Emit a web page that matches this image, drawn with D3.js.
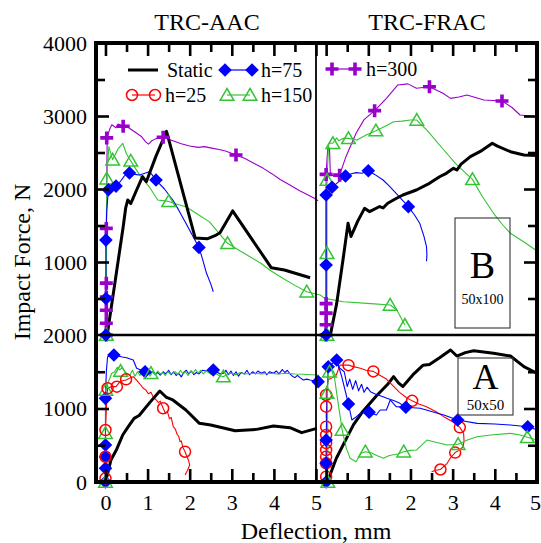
<!DOCTYPE html>
<html>
<head>
<meta charset="utf-8">
<script src="https://cdn.jsdelivr.net/npm/d3@7"></script>
<style>
  body { margin: 0; background: #fff; }
  svg { display: block; }
  text { font-family: "Liberation Serif", "Times New Roman", serif; fill: #000; }
</style>
</head>
<body>
<svg id="chart" width="541" height="543"></svg>
<script>
// ---- Column / row labels and ticks ----
const columnTitles = ["TRC-AAC", "TRC-FRAC"];
const specimenLabels = [["B", "50x100"], ["A", "50x50"]];
const xMajorTicks = [0, 1, 2, 3, 4, 5];
const xMinorTicks = [0.5, 1.5, 2.5, 3.5, 4.5];
const xLabelsLeft = [0, 1, 2, 3, 4, 5];
const xLabelsRight = [1, 2, 3, 4, 5];
const yTopMajor = [1000, 2000, 3000];
const yTopMinor = [500, 1500, 2500, 3500];
const yTopLabels = [1000, 2000, 3000, 4000];
const yBotMajor = [1000];
const yBotMinor = [500, 1500];
const yBotLabels = [0, 1000, 2000];
const legendNames = ["Static", "h=75", "h=25", "h=150", "h=300"];

// ---- TRC-AAC, specimen B (50x100) ----
const staticAacB = [[0.04,0],[0.2,620],[0.42,1480],[0.48,1740],[0.53,1850],[0.6,1800],[0.75,2000],[0.88,2170],[0.97,2100],[1.2,2450],[1.45,2790],[2.13,1330],[2.43,1320],[2.6,1360],[2.72,1400],[3.02,1700],[3.94,920],[4.25,890],[4.86,785]];
const h300AacB = [[0.02,0],[0.02,700],[0.02,1460],[0.03,2000],[0.04,2700],[0.1,2820],[0.15,2880],[0.25,2840],[0.3,2890],[0.42,2860],[0.55,2840],[0.7,2780],[0.86,2715],[0.95,2650],[1.02,2615],[1.1,2660],[1.2,2690],[1.37,2708],[1.6,2660],[1.8,2620],[2.0,2590],[2.2,2570],[2.35,2580],[2.55,2557],[2.7,2540],[2.85,2520],[3.1,2466],[3.3,2420],[3.5,2360],[3.75,2283],[3.95,2210],[4.15,2130],[4.38,2055],[4.6,1980],[4.8,1920],[4.95,1877],[5.05,1840]];
const h300AacBMarks = [[0.02,0],[0.02,160],[0.02,340],[0.02,520],[0.02,710],[0.02,1460],[0.03,2700],[0.42,2860],[1.37,2708],[3.1,2466]];
const h150AacB = [[0.02,0],[0.03,2140],[0.08,2580],[0.17,2400],[0.3,2550],[0.41,2626],[0.5,2480],[0.6,2385],[0.8,2200],[1.04,2030],[1.24,1850],[1.5,1830],[1.7,1790],[1.91,1758],[2.2,1650],[2.47,1550],[2.9,1256],[3.2,1150],[3.43,1073],[3.7,980],[3.9,890],[4.2,780],[4.5,680],[4.78,593],[5.1,548],[5.21,502],[5.65,456],[6.3,430],[6.76,411],[6.92,342],[7.11,137]];
const h150AacBMarks = [[0.02,0],[0.03,2140],[0.17,2400],[0.6,2385],[1.5,1830],[2.9,1256],[4.78,593],[6.76,411],[7.11,137]];
const h75AacB = [[0.01,0],[0.01,500],[0.01,1300],[0.03,1700],[0.07,1990],[0.15,2010],[0.25,2040],[0.35,2100],[0.45,2180],[0.57,2220],[0.7,2200],[0.8,2192],[0.9,2210],[1.04,2237],[1.1,2200],[1.2,2123],[1.4,2000],[1.6,1849],[1.75,1700],[1.91,1530],[2.05,1380],[2.22,1200],[2.3,1050],[2.4,845],[2.5,700],[2.56,593]];
const h75AacBMarks = [[0.01,0],[0.01,500],[0.01,1300],[0.07,1990],[0.25,2040],[0.57,2220],[1.2,2123],[2.22,1200]];

// ---- TRC-FRAC, specimen B (50x100) ----
const staticFracB = [[0.1,0],[0.25,430],[0.4,1030],[0.52,1530],[0.59,1350],[0.75,1560],[0.91,1735],[1.03,1690],[1.27,1760],[1.35,1740],[1.46,1805],[1.66,1870],[1.82,1918],[2.14,1986],[2.45,2078],[2.69,2168],[2.85,2215],[3.02,2283],[3.1,2260],[3.2,2340],[3.42,2443],[3.7,2530],[3.94,2626],[4.05,2590],[4.37,2511],[4.69,2466],[5.0,2460]];
const h300FracB = [[0.0,0],[0.0,2200],[0.02,2400],[0.04,2560],[0.08,2560],[0.1,2200],[0.2,2180],[0.32,2190],[0.47,2443],[0.71,2763],[0.9,2950],[1.15,3073],[1.43,3242],[1.7,3425],[1.94,3440],[2.14,3380],[2.45,3400],[2.77,3311],[2.95,3242],[3.15,3260],[3.34,3288],[3.74,3219],[4.17,3205],[4.4,3120],[4.6,3014],[5.0,2990]];
const h300FracBMarks = [[0,0],[0,140],[0,300],[0,430],[0,2200],[0.32,2190],[1.15,3073],[2.45,3400],[4.17,3205]];
const h150FracB = [[0.02,0],[0.02,1120],[0.02,2123],[0.06,2626],[0.16,2626],[0.25,2700],[0.3,2660],[0.41,2694],[0.53,2694],[0.73,2671],[0.95,2740],[1.18,2799],[1.4,2860],[1.6,2922],[1.8,2930],[2.0,2945],[2.15,2945],[2.4,2800],[2.79,2534],[3.1,2330],[3.47,2132],[3.7,1900],[3.97,1667],[4.2,1500],[4.37,1393],[4.7,1270],[5.0,1150]];
const h150FracBMarks = [[0.02,0],[0.02,1120],[0.02,2123],[0.16,2626],[0.53,2694],[1.18,2799],[2.15,2945],[3.47,2132]];
const h75FracB = [[0,0],[0,959],[0,1918],[0.14,2023],[0.3,2100],[0.46,2178],[0.6,2210],[0.71,2224],[0.85,2215],[1.0,2250],[1.15,2200],[1.35,2123],[1.5,2040],[1.66,1941],[1.95,1758],[2.1,1640],[2.22,1530],[2.32,1350],[2.38,1210],[2.39,1100],[2.38,1010]];
const h75FracBMarks = [[0,0],[0,959],[0,1918],[0.14,2023],[0.46,2178],[1.0,2250],[1.95,1758]];

// ---- TRC-AAC, specimen A (50x50) ----
const staticAacA = [[0.01,20],[0.13,300],[0.27,450],[0.41,640],[0.55,760],[0.68,866],[0.8,905],[1.05,1080],[1.29,1238],[1.45,1150],[1.6,1116],[1.91,980],[2.23,798],[2.5,776],[3.08,698],[3.59,716],[3.99,762],[4.38,739],[4.66,671],[5.02,730]];
const h75AacA = [[0,0],[0,1138],[0.02,1500],[0.05,1705],[0.2,1728],[0.4,1700],[0.5,1690],[0.66,1660],[0.74,1547],[0.94,1500],[1.0,1490],[1.06,1470],[1.12,1500],[1.18,1460],[1.24,1490],[1.3,1455],[1.37,1500],[1.43,1470],[1.5,1520],[1.56,1460],[1.62,1500],[1.68,1450],[1.74,1480],[1.8,1430],[1.86,1490],[1.92,1520],[1.98,1470],[2.04,1510],[2.1,1460],[2.16,1490],[2.22,1470],[2.3,1520],[2.4,1510],[2.48,1530],[2.56,1524],[2.64,1500],[2.72,1470],[2.8,1479],[2.86,1520],[2.92,1460],[2.98,1510],[3.04,1450],[3.1,1500],[3.16,1440],[3.22,1490],[3.3,1470],[3.36,1520],[3.42,1460],[3.5,1500],[3.56,1470],[3.62,1510],[3.7,1480],[3.78,1500],[3.83,1460],[3.9,1500],[3.99,1479],[4.06,1510],[4.12,1470],[4.2,1530],[4.26,1490],[4.32,1520],[4.38,1470],[4.44,1440],[4.5,1420],[4.56,1450],[4.62,1420],[4.7,1388],[4.78,1400],[4.86,1388],[5.05,1365]];
const h75AacAMarks = [[0,0],[0,186],[0,344],[0,503],[0,1138],[0.2,1728],[0.94,1500],[2.56,1524],[5.05,1365]];
const h150AacA = [[0,0],[0,663],[0.01,1252],[0.08,1380],[0.15,1480],[0.22,1500],[0.28,1560],[0.34,1524],[0.4,1560],[0.46,1500],[0.52,1470],[0.58,1456],[0.64,1520],[0.7,1440],[0.76,1500],[0.82,1450],[0.88,1510],[0.94,1460],[1.0,1500],[1.06,1440],[1.12,1500],[1.18,1460],[1.24,1510],[1.3,1470],[1.36,1490],[1.42,1450],[1.48,1500],[1.54,1470],[1.6,1480],[1.66,1500],[1.72,1460],[1.78,1520],[1.84,1470],[1.9,1500],[1.96,1450],[2.02,1510],[2.08,1480],[2.14,1530],[2.2,1480],[2.26,1520],[2.32,1470],[2.4,1510],[2.5,1470],[2.6,1480],[2.7,1450],[2.8,1433],[2.9,1470],[3.0,1480],[3.1,1460],[3.2,1490],[3.3,1470],[3.5,1480],[3.7,1470],[3.9,1480],[4.1,1470],[4.3,1480],[4.5,1470],[4.7,1465],[4.9,1460],[5.05,1456]];
const h150AacAMarks = [[0,0],[0,663],[0.01,1252],[0.36,1510],[1.08,1480],[2.8,1433]];
const h25AacA = [[0,0],[0.01,350],[0,700],[0.02,1000],[0.05,1275],[0.15,1300],[0.25,1297],[0.35,1370],[0.49,1388],[0.6,1420],[0.66,1433],[0.75,1380],[0.82,1330],[0.9,1275],[0.96,1250],[1.02,1200],[1.08,1220],[1.14,1150],[1.2,1120],[1.26,1080],[1.3,1100],[1.37,1003],[1.42,940],[1.47,960],[1.52,860],[1.56,880],[1.61,752],[1.66,720],[1.7,650],[1.74,620],[1.77,548],[1.8,560],[1.84,470],[1.89,412],[1.93,350],[1.97,300],[2.0,231],[1.95,160],[1.89,95]];
const h25AacAMarks = [[0,50],[0,344],[0,707],[0.05,1275],[0.27,1297],[0.49,1397],[1.37,1003],[1.89,412]];

// ---- TRC-FRAC, specimen A (50x50) ----
const staticFracA = [[0.05,30],[0.24,320],[0.48,590],[0.65,780],[0.87,960],[1.19,1170],[1.46,1330],[1.6,1433],[1.72,1345],[1.82,1300],[2.06,1460],[2.3,1590],[2.45,1600],[2.69,1690],[2.95,1796],[3.1,1714],[3.3,1760],[3.5,1786],[3.97,1751],[4.37,1714],[4.69,1569],[5.0,1480]];
const h25FracA = [[0,0],[0.02,150],[0,300],[0.02,450],[0,600],[0.02,750],[0,900],[0.02,1050],[0,1200],[0.05,1390],[0.15,1420],[0.24,1456],[0.33,1590],[0.53,1590],[0.65,1570],[0.81,1547],[0.95,1520],[1.12,1505],[1.25,1460],[1.43,1400],[1.6,1300],[1.74,1220],[1.9,1150],[2.04,1104],[2.2,1060],[2.38,1025],[2.6,960],[2.79,889],[3.0,820],[3.17,744],[3.26,662],[3.27,560],[3.25,480],[3.15,430],[3.06,400],[2.95,330],[2.87,254],[2.71,170],[2.6,160],[2.5,140]];
const h25FracAMarks = [[0,72],[0,254],[0,344],[0,435],[0,530],[0,640],[0,752],[0,1025],[0,1184],[0.53,1590],[1.12,1505],[2.04,1104],[3.17,744],[3.06,400],[2.71,170]];
const h75FracA = [[0,0],[0,254],[0,571],[0.02,1100],[0.05,1569],[0.25,1660],[0.37,1433],[0.53,1061],[0.61,844],[0.7,880],[0.81,935],[1.02,948],[1.19,912],[1.28,980],[1.43,980],[1.52,1116],[1.66,1025],[1.89,1016],[2.23,1003],[2.5,960],[2.79,912],[3.12,844],[3.58,798],[4.0,790],[4.37,776],[4.78,752],[5.0,710]];
const h75FracABranch = [[0.25,1660],[0.3,1560],[0.43,1500],[0.5,1300],[0.56,1400],[0.63,1260],[0.7,1380],[0.77,1240],[0.84,1330],[0.9,1220],[0.97,1290],[1.05,1229],[1.15,1200],[1.25,1180],[1.35,1160],[1.44,1139],[1.6,1110],[1.75,1070],[1.89,1016]];
const h75FracAMarks = [[0,0],[0,254],[0,571],[0.05,1569],[0.25,1660],[0.53,1061],[1.02,948],[1.89,1016],[3.12,844],[4.78,752]];
const h150FracA = [[0.04,0],[0.04,600],[0.03,1210],[0.06,1592],[0.1,1560],[0.2,1411],[0.28,1093],[0.38,707],[0.48,458],[0.57,322],[0.71,276],[0.83,390],[0.93,412],[1.05,400],[1.2,360],[1.36,322],[1.5,360],[1.7,380],[1.84,412],[2.0,430],[2.14,435],[2.39,571],[2.6,540],[2.87,503],[3.13,513],[3.35,570],[3.58,616],[3.9,640],[4.37,662],[4.6,640],[4.77,608],[5.0,571]];
const h150FracAMarks = [[0.04,0],[0.02,1210],[0.08,1500],[0.38,707],[0.93,412],[1.84,412],[3.13,513],[4.77,608]];

// ---- Styles per test series ----
const styles = {
  static: { color: "#000000", width: 3 },
  h25:    { color: "#ff0000", width: 1.1, symbol: "circle" },
  h75:    { color: "#0000ff", width: 1.1, symbol: "diamond" },
  h150:   { color: "#33c433", width: 1.1, symbol: "triangle" },
  h300:   { color: "#9900cc", width: 1.1, symbol: "plus" }
};

const panels = [
  { col: 0, row: 0, lines: [["h300", h300AacB], ["h150", h150AacB], ["h75", h75AacB], ["static", staticAacB]],
    marks: [["h300", h300AacBMarks], ["h150", h150AacBMarks], ["h75", h75AacBMarks]] },
  { col: 1, row: 0, lines: [["h300", h300FracB], ["h150", h150FracB], ["h75", h75FracB], ["static", staticFracB]],
    marks: [["h300", h300FracBMarks], ["h150", h150FracBMarks], ["h75", h75FracBMarks]] },
  { col: 0, row: 1, lines: [["h75", h75AacA], ["h150", h150AacA], ["h25", h25AacA], ["static", staticAacA]],
    marks: [["h75", h75AacAMarks], ["h150", h150AacAMarks], ["h25", h25AacAMarks]] },
  { col: 1, row: 1, lines: [["static", staticFracA], ["h25", h25FracA], ["h75", h75FracA], ["h75", h75FracABranch], ["h150", h150FracA]],
    marks: [["h25", h25FracAMarks], ["h75", h75FracAMarks], ["h150", h150FracAMarks]] }
];

// ---- Geometry ----
const L = 96, R = 537, T = 43, B = 482, MIDX = 316, MIDY = 335;
const xScales = [
  d3.scaleLinear().domain([-0.225, 5]).range([L, MIDX]),
  d3.scaleLinear().domain([-0.24, 5]).range([MIDX, R])
];
const yScales = [
  d3.scaleLinear().domain([0, 4000]).range([MIDY, T]),
  d3.scaleLinear().domain([0, 2000]).range([B, MIDY])
];

const svg = d3.select("#chart");

const symbolPaths = {
  diamond: "M0,-6.8L6.8,0L0,6.8L-6.8,0Z",
  circle: d3.symbol(d3.symbolCircle, 95)(),
  triangle: "M0,-6.5L6.8,5.2L-6.8,5.2Z",
  plus: "M-6.5,0H6.5M0,-6.5V6.5"
};
function styleMarker(sel, key) {
  const st = styles[key];
  sel.attr("d", symbolPaths[st.symbol]);
  if (st.symbol === "diamond") sel.attr("fill", st.color).attr("stroke", "none");
  else if (st.symbol === "plus") sel.attr("fill", "none").attr("stroke", st.color).attr("stroke-width", 3.6);
  else sel.attr("fill", "none").attr("stroke", st.color).attr("stroke-width", 1.5);
}

// ---- Curves and markers ----
const plot = svg.append("g");
panels.forEach(p => {
  const x = xScales[p.col], y = yScales[p.row];
  const line = d3.line().x(d => x(d[0])).y(d => y(d[1]));
  const g = plot.append("g");
  p.lines.forEach(([key, data]) => {
    g.append("path").attr("d", line(data))
      .attr("fill", "none").attr("stroke", styles[key].color)
      .attr("stroke-width", styles[key].width).attr("stroke-linejoin", "round");
  });
  p.marks.forEach(([key, data]) => {
    g.selectAll(null).data(data).join("path")
      .attr("transform", d => `translate(${x(d[0])},${y(d[1])})`)
      .call(styleMarker, key);
  });
});

// ---- Axes (inward ticks) ----
function tickAxis(axisFn, scale, values, size, pos, isX) {
  const a = axisFn(scale).tickValues(values).tickSizeInner(-size).tickSizeOuter(0).tickFormat("");
  const g = svg.append("g").attr("transform", isX ? `translate(0,${pos})` : `translate(${pos},0)`).call(a);
  g.select(".domain").remove();
  g.selectAll(".tick line").attr("stroke", "#000").attr("stroke-width", 2.6);
  return g;
}
xScales.forEach(xs => {
  tickAxis(d3.axisBottom, xs, xMajorTicks, 13, B, true);
  tickAxis(d3.axisBottom, xs, xMinorTicks, 9, B, true);
  tickAxis(d3.axisTop, xs, xMajorTicks, 13, T, true);
  tickAxis(d3.axisTop, xs, xMinorTicks, 9, T, true);
});
tickAxis(d3.axisLeft, yScales[0], yTopMajor, 13, L, false);
tickAxis(d3.axisLeft, yScales[0], yTopMinor, 9, L, false);
tickAxis(d3.axisLeft, yScales[1], yBotMajor, 13, L, false);
tickAxis(d3.axisLeft, yScales[1], yBotMinor, 9, L, false);
tickAxis(d3.axisRight, yScales[0], yTopMajor, 13, R, false);
tickAxis(d3.axisRight, yScales[0], yTopMinor, 9, R, false);
tickAxis(d3.axisRight, yScales[1], yBotMajor, 13, R, false);
tickAxis(d3.axisRight, yScales[1], yBotMinor, 9, R, false);

// Tick labels
function labelAxis(axisFn, scale, values, pos, isX, pad) {
  const a = axisFn(scale).tickValues(values).tickSize(0).tickPadding(pad).tickFormat(d3.format("d"));
  const g = svg.append("g").attr("transform", isX ? `translate(0,${pos})` : `translate(${pos},0)`).call(a);
  g.select(".domain").remove();
  g.attr("font-family", null);
  g.selectAll("text").attr("font-size", 22).attr("fill", "#000");
  return g;
}
labelAxis(d3.axisBottom, xScales[0], xLabelsLeft, B, true, 12);
const rightLabels = labelAxis(d3.axisBottom, xScales[1], xLabelsRight, B, true, 12);
// keep the last label inside the page edge
rightLabels.selectAll("text").filter(d => d === 5).attr("text-anchor", "end").attr("dx", "3.5");
labelAxis(d3.axisLeft, yScales[0], yTopLabels, L, false, 9);
labelAxis(d3.axisLeft, yScales[1], yBotLabels, L, false, 9);

// ---- Frame and dividers ----
svg.append("line").attr("x1", MIDX).attr("x2", MIDX).attr("y1", T).attr("y2", B)
  .attr("stroke", "#000").attr("stroke-width", 1.8);
svg.append("line").attr("x1", L).attr("x2", R).attr("y1", MIDY).attr("y2", MIDY)
  .attr("stroke", "#000").attr("stroke-width", 2.4);
svg.append("rect").attr("x", L).attr("y", T).attr("width", R - L).attr("height", B - T)
  .attr("fill", "none").attr("stroke", "#000").attr("stroke-width", 4);

// ---- Titles ----
svg.append("text").attr("x", 207).attr("y", 30).attr("text-anchor", "middle").attr("font-size", 24).text(columnTitles[0]);
svg.append("text").attr("x", 427).attr("y", 30).attr("text-anchor", "middle").attr("font-size", 24).text(columnTitles[1]);
svg.append("text").attr("x", 316).attr("y", 539).attr("text-anchor", "middle").attr("font-size", 24).text("Deflection, mm");
svg.append("text").attr("transform", "translate(30,262) rotate(-90)").attr("text-anchor", "middle").attr("font-size", 24).text("Impact Force, N");

// ---- Specimen boxes ----
const boxes = [
  { x: 455, y: 218, w: 55, h: 110, big: 278, small: 304, bigSize: 38, smallSize: 14, lab: specimenLabels[0] },
  { x: 458, y: 358, w: 55, h: 57, big: 389, small: 410, bigSize: 36, smallSize: 15, lab: specimenLabels[1] }
];
boxes.forEach(b => {
  svg.append("rect").attr("x", b.x).attr("y", b.y).attr("width", b.w).attr("height", b.h)
    .attr("fill", "none").attr("stroke", "#333").attr("stroke-width", 1.1);
  svg.append("text").attr("x", b.x + b.w / 2).attr("y", b.big).attr("text-anchor", "middle")
    .attr("font-size", b.bigSize).attr("fill", "#222").text(b.lab[0]);
  svg.append("text").attr("x", b.x + b.w / 2).attr("y", b.small).attr("text-anchor", "middle")
    .attr("font-size", b.smallSize).attr("fill", "#333").text(b.lab[1]);
});

// ---- Legend ----
const legendItems = [
  { key: "static", name: legendNames[0], x1: 128, x2: 158, y: 70, tx: 167 },
  { key: "h75",    name: legendNames[1], x1: 225, x2: 252, y: 70, tx: 261 },
  { key: "h25",    name: legendNames[2], x1: 132, x2: 155, y: 95, tx: 165 },
  { key: "h150",   name: legendNames[3], x1: 227, x2: 250, y: 95, tx: 261 },
  { key: "h300",   name: legendNames[4], x1: 332, x2: 355, y: 69, tx: 366 }
];
const lg = svg.append("g");
legendItems.forEach(it => {
  const st = styles[it.key];
  lg.append("line").attr("x1", it.x1).attr("x2", it.x2).attr("y1", it.y).attr("y2", it.y)
    .attr("stroke", st.color).attr("stroke-width", it.key === "static" ? 3 : 1.2);
  if (st.symbol) {
    [it.x1, it.x2].forEach(px => {
      lg.append("path").attr("transform", `translate(${px},${it.y})`).call(styleMarker, it.key);
    });
  }
  lg.append("text").attr("x", it.tx).attr("y", it.y + 7).attr("font-size", 20).text(it.name);
});
</script>
</body>
</html>
